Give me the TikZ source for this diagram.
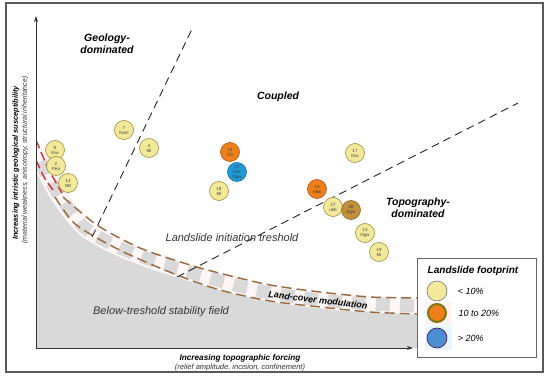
\documentclass[tikz,border=0pt]{standalone}
\usepackage{fontspec}
\setmainfont{Liberation Sans}
\usetikzlibrary{
    positioning,
    arrows.meta
}
\definecolor{amarillo}{HTML}{F3E99B}
\definecolor{bordeam}{HTML}{9C8A3A}
\definecolor{naranja}{HTML}{EF7F1A}
\definecolor{bordena}{HTML}{A8561A}
\definecolor{azul}{HTML}{1E9AD6}
\definecolor{bordeaz}{HTML}{1B6A98}
\definecolor{oliva}{HTML}{C0903A}
\definecolor{bordeol}{HTML}{86672A}
\definecolor{cafe}{HTML}{9A673A}
\definecolor{rojo}{HTML}{D82A36}
\definecolor{azulley}{HTML}{4C8ED2}
\tikzset{
    >=Stealth,
    sitio/.style={
        circle,
        minimum size=19pt,
        inner sep=0pt,
        draw=bordeam,
        line width=0.6pt,
        fill=amarillo,
        align=center,
        text=black!75,
        font=\fontsize{4.5}{5}\selectfont
    },
    sitionar/.style={sitio, fill=naranja, draw=bordena},
    sitioaz/.style={sitio, fill=azul, draw=bordeaz},
    sitiool/.style={sitio, fill=oliva, draw=bordeol},
    region/.style={
        align=center,
        font=\fontsize{10.5}{12.5}\selectfont\bfseries\itshape
    },
    campo/.style={
        text=black!80,
        font=\fontsize{11}{13}\selectfont\itshape
    },
    limite/.style={
        dash pattern=on 8pt off 5pt,
        line width=0.9pt,
        black!85
    },
    curva/.style={
        dash pattern=on 10pt off 5pt,
        line width=1.4pt,
        cafe
    },
    curvaroja/.style={
        dash pattern=on 9pt off 4pt,
        line width=1.4pt,
        rojo
    },
    eje/.style={
        line width=0.9pt,
        black!80,
        -{Stealth[length=6pt,width=4pt]}
    }
}

\begin{document}
\begin{tikzpicture}[x=1pt, y=-1pt]

    \useasboundingbox (0,0) rectangle (550,377);

    % Marco
    \draw[black!65, line width=1.5pt] (6,3) rectangle (543,372);

    \begin{scope}
    \clip (36,0) rectangle (545,348);

    % Campo estable
    \fill[gray!30] (36,348) -- plot[smooth] coordinates {
        (36,160) (45,180) (55,197) (73,222) (97,238) (130,255)
        (177,275) (220,290) (270,301) (320,307) (370,312) (417,314)
    } -- (417,348) -- cycle;

    % Banda de modulacion
    \draw[pink!12, line width=17pt] plot[smooth] coordinates {
        (36,150) (50,180) (62,200) (85,228) (118,247) (160,263)
        (220,281) (270,293) (320,300) (370,304) (417,306)
    };
    \draw[gray!30, line width=13pt, dash pattern=on 14pt off 10pt]
        plot[smooth] coordinates {
        (40,162) (50,180) (62,200) (85,228) (118,247) (160,263)
        (220,281) (270,293) (320,300) (370,304) (417,306)
    };

    % Umbrales
    \draw[curvaroja] plot[smooth] coordinates {(36,140) (48,168) (62,193)};
    \draw[curvaroja] plot[smooth] coordinates {(36,160) (44,177) (53,190)};
    \draw[curva] plot[smooth] coordinates {
        (63,197) (97,225) (140,248) (190,265) (227,275)
        (270,285) (320,292) (370,297) (417,298)
    };
    \draw[curva] plot[smooth] coordinates {
        (55,197) (73,222) (97,238) (130,255) (177,275)
        (220,290) (270,301) (320,307) (370,312) (417,314)
    };
    \end{scope}

    % Limites de dominio
    \coordinate (g0) at (92,237);
    \coordinate (g1) at (193,27);
    \coordinate (t0) at (177,277);
    \coordinate (t1) at (518,103);
    \draw[limite] (g0) -- (g1);
    \draw[limite] (t0) -- (t1);

    % Ejes
    \coordinate (origen) at (36,348);
    \coordinate (ytop)   at (36,16);
    \coordinate (xfin)   at (413,348);
    \draw[eje] (origen) -- (ytop);
    \draw[eje] (origen) -- (xfin);

    % Sitios
    \node[sitio]    (s9)  at (55,150)  {9\\Kiw};
    \node[sitio]    (s2)  at (56,166)  {2\\Pea};
    \node[sitio]    (s14) at (68,183)  {14\\Mit};
    \node[sitio]    (s7)  at (124,130) {7\\Kam};
    \node[sitio]    (s4)  at (149,148) {4\\Mi};
    \node[sitionar] (s15) at (230,152) {15\\Kb};
    \node[sitioaz]  (s22) at (237,172) {22\\Kiw\\Ogw};
    \node[sitio]    (s18) at (219,191) {18\\Mi};
    \node[sitio]    (s17) at (355,153) {17\\Kiw};
    \node[sitionar] (s16) at (317,189) {16\\Mlw};
    \node[sitio]    (s27) at (333,207) {27\\uMi};
    \node[sitiool]  (s28) at (351,210) {28\\Egw};
    \node[sitio]    (s13) at (365,233) {13\\Ogw};
    \node[sitio]    (s19) at (379,252) {19\\Mi};

    % Textos
    \node[region] (geo)  at (107,44)  {Geology-\\dominated};
    \node[region] (acop) at (278,97)  {Coupled};
    \node[region] (topo) at (418,208) {Topography-\\dominated};
    \node[campo]  (umb)  at (232,238) {Landslide initiation treshold};
    \node[campo]  (est)  at (161,312) {Below-treshold stability field};
    \node[rotate=-7, font=\fontsize{9}{11}\selectfont\bfseries\itshape]
        (mod) at (318,300) {Land-cover modulation};

    \node[font=\fontsize{8.2}{10}\selectfont\bfseries\itshape]
        (xtit) at (240,358) {Increasing topographic forcing};
    \node[font=\fontsize{7.5}{9}\selectfont\itshape, text=black!80]
        (xsub) at (240,367.5) {(relief amplitude, incision, confinement)};
    \node[rotate=90, font=\fontsize{7.4}{9}\selectfont\bfseries\itshape]
        (ytit) at (16,163) {Increasing intristic geological susceptibility};
    \node[rotate=90, font=\fontsize{7}{9}\selectfont\itshape, text=black!80]
        (ysub) at (25,160) {(material weakness, anisotropy, structural inheritance)};

    % Leyenda
    \node[draw=black!60, line width=0.8pt, fill=white,
          minimum width=119pt, minimum height=99pt, inner sep=0pt]
        (ley) at (476.5,307.5) {};
    \node[font=\fontsize{10}{12}\selectfont\bfseries\itshape]
        (leytit) at (473,271) {Landslide footprint};
    \fill[pink!18] (425,302) rectangle (452,325);
    \fill[cyan!10] (425,326) rectangle (452,350);
    \node[sitio, minimum size=20pt, draw=black!55]            (l1) at (437,291) {};
    \node[sitio, fill=naranja, draw=olive!85!black,
          line width=2pt, minimum size=18pt]                 (l2) at (437,313) {};
    \node[sitio, minimum size=20pt, fill=azulley, draw=violet!60!black] (l3) at (437,338) {};
    \node[right=7pt of l1, font=\fontsize{9}{11}\selectfont\itshape] (e1) {< 10\%};
    \node[right=8pt of l2, font=\fontsize{9}{11}\selectfont\itshape] (e2) {10 to 20\%};
    \node[right=7pt of l3, font=\fontsize{9}{11}\selectfont\itshape] (e3) {> 20\%};

\end{tikzpicture}
\end{document}
